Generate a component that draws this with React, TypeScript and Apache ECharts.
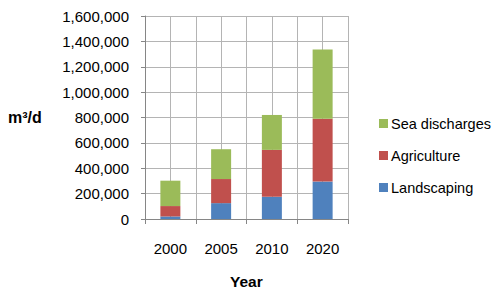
import React, { useEffect, useRef } from "react";
import * as echarts from "echarts";

const years = ["2000", "2005", "2010", "2020"];
const landscaping = [20000, 125000, 175000, 295000];
const agriculture = [82000, 190000, 370000, 495000];
const seaDischarges = [200000, 235000, 275000, 545000];
const halfSlots = ["a", "b", "c", "d", "e", "f", "g", "h"];

const FONT = "'Liberation Sans', Arial, sans-serif";

export default function App() {
  const ref = useRef<HTMLDivElement>(null);
  useEffect(() => {
    if (!ref.current) return;
    const chart = echarts.init(ref.current, null, { renderer: "svg" });
    chart.setOption({
      animation: false,
      backgroundColor: "#ffffff",
      textStyle: { fontFamily: FONT },
      grid: { left: 145, right: 152, top: 16, bottom: 72, containLabel: false },
      legend: {
        orient: "vertical",
        left: 374,
        top: 111,
        itemWidth: 9,
        itemHeight: 9,
        itemGap: 17,
        icon: "rect",
        data: ["Sea discharges", "Agriculture", "Landscaping"],
        textStyle: { fontSize: 14.5, color: "#000", fontFamily: FONT, padding: [0, 0, 0, -2] },
      },
      xAxis: [
        {
          type: "category",
          data: years,
          axisLine: { lineStyle: { color: "#868686", width: 1 } },
          axisTick: { show: true, length: 5, lineStyle: { color: "#868686" } },
          axisLabel: { fontSize: 15, color: "#000", margin: 22, fontFamily: FONT },
          splitLine: { show: false },
        },
        {
          type: "category",
          data: halfSlots,
          position: "bottom",
          show: true,
          axisLine: { show: false },
          axisTick: { show: false },
          axisLabel: { show: false },
          splitLine: { show: true, interval: 0, lineStyle: { color: "#b4b4b4", width: 1 } },
        },
      ],
      yAxis: {
        type: "value",
        min: 0,
        max: 1600000,
        interval: 200000,
        axisLine: { show: true, lineStyle: { color: "#868686" } },
        axisTick: { show: true, length: 4, lineStyle: { color: "#868686" } },
        axisLabel: {
          fontSize: 15,
          color: "#000",
          margin: 16,
          fontFamily: FONT,
          formatter: (v: number) => v.toLocaleString("en-US"),
        },
        splitLine: { show: true, lineStyle: { color: "#b4b4b4", width: 1 } },
      },
      graphic: [
        {
          type: "text",
          left: 8,
          top: 109,
          style: { text: "m³/d", font: `bold 16px ${FONT}`, fill: "#000" },
        },
        {
          type: "text",
          left: 230,
          top: 273,
          style: { text: "Year", font: `bold 15.5px ${FONT}`, fill: "#000" },
        },
      ],
      series: [
        {
          name: "Landscaping",
          type: "bar",
          stack: "total",
          barWidth: 20,
          xAxisIndex: 0,
          itemStyle: { color: "#4f81bd" },
          data: landscaping,
        },
        {
          name: "Agriculture",
          type: "bar",
          stack: "total",
          barWidth: 20,
          xAxisIndex: 0,
          itemStyle: { color: "#c0504d" },
          data: agriculture,
        },
        {
          name: "Sea discharges",
          type: "bar",
          stack: "total",
          barWidth: 20,
          xAxisIndex: 0,
          itemStyle: { color: "#9bbb59" },
          data: seaDischarges,
        },
      ],
    });
    return () => chart.dispose();
  }, []);
  return <div ref={ref} style={{ width: 500, height: 291, position: "absolute", left: 0, top: 0 }} />;
}
